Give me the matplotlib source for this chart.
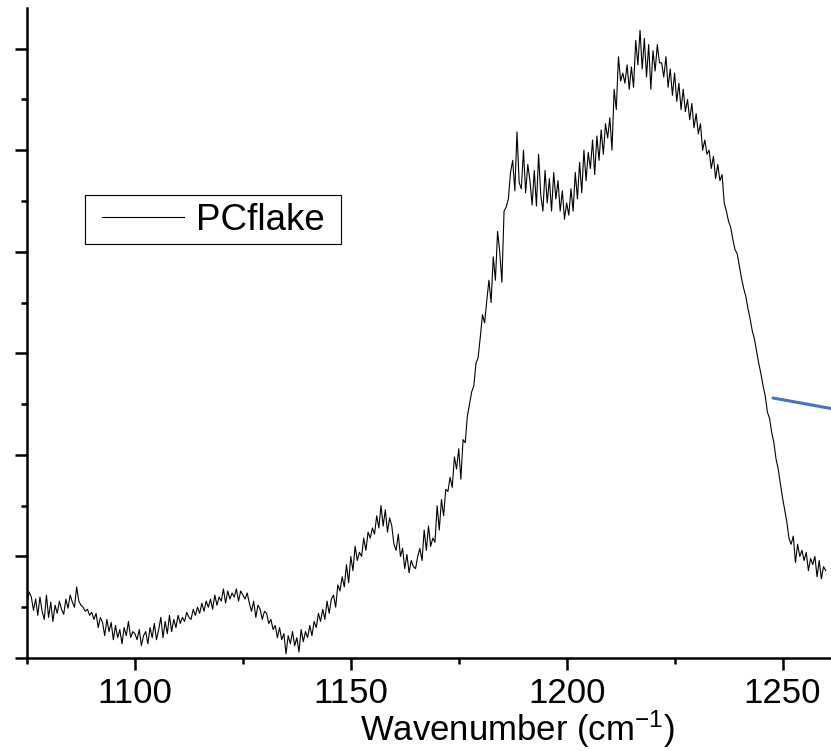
"""
Raman spectrum of the PC flake between 1075 and 1260 cm-1.
"""
import matplotlib
matplotlib.use('Agg')
import matplotlib.pyplot as plt
import numpy as np
from matplotlib.patches import Rectangle
from matplotlib.ticker import FixedLocator, MultipleLocator, NullFormatter

OUTPUT = 'out.png'

# spectrum sampled every 0.5 cm-1 starting at 1075 cm-1
WAVENUMBER_START = 1075.0
WAVENUMBER_STEP = 0.5
SERIES_NAME = 'PCflake'
X_TICKS = [1100, 1150, 1200, 1250]

# intensity in counts, 1075.0 - 1100.0
intensity_1075 = [55, 65, 60, 47, 58, 42, 60, 46, 38, 62, 40, 55, 36, 52, 44, 56, 48,
                  43, 58, 49, 62, 55, 50, 70, 56, 52, 50, 46, 48, 42, 45, 38, 44, 30,
                  40, 35, 22, 38, 26, 35, 18, 32, 20, 28, 14, 30, 22, 36, 20, 26, 24]
# 1100.5 - 1125.0
intensity_1100 = [18, 28, 12, 22, 26, 14, 30, 20, 34, 18, 28, 40, 20, 36, 24, 42, 26,
                  38, 30, 42, 34, 40, 36, 45, 40, 38, 48, 42, 50, 44, 54, 46, 56, 50,
                  58, 48, 62, 52, 60, 56, 68, 54, 66, 58, 64, 60, 68, 56, 66, 62]
# 1125.5 - 1150.0
intensity_1125 = [58, 64, 54, 46, 56, 40, 52, 48, 38, 46, 44, 34, 38, 28, 32, 20, 30,
                  18, 24, 4, 22, 14, 26, 12, 20, 6, 28, 16, 26, 20, 32, 22, 36, 30,
                  44, 36, 48, 38, 56, 44, 58, 62, 50, 72, 66, 80, 70, 92, 74, 100]
# 1150.5 - 1175.0
intensity_1150 = [86, 110, 96, 104, 100, 118, 106, 124, 118, 128, 122, 140, 128, 150,
                  130, 146, 124, 138, 130, 112, 106, 122, 100, 108, 88, 102, 84, 96,
                  90, 88, 100, 108, 96, 126, 106, 130, 110, 118, 114, 150, 126, 156,
                  140, 166, 164, 178, 168, 198, 186, 206]
# 1175.5 - 1200.0
intensity_1175 = [176, 215, 212, 238, 250, 262, 268, 290, 296, 316, 338, 330, 352, 372,
                  350, 395, 372, 420, 400, 370, 440, 444, 452, 478, 490, 460, 518, 468,
                  462, 500, 458, 486, 470, 446, 480, 445, 496, 456, 440, 480, 448, 472,
                  440, 478, 452, 470, 440, 460, 432, 448]
# 1200.5 - 1225.0
intensity_1200 = [436, 462, 440, 478, 452, 488, 458, 500, 470, 498, 482, 510, 476, 514,
                  490, 520, 496, 526, 512, 532, 500, 560, 540, 592, 568, 576, 566, 584,
                  560, 582, 562, 608, 584, 618, 580, 610, 572, 604, 560, 598, 578, 604,
                  586, 586, 572, 592, 562, 580, 554, 576]
# 1225.5 - 1250.0
intensity_1225 = [548, 566, 540, 560, 538, 550, 530, 546, 522, 536, 516, 526, 500, 510,
                  496, 500, 482, 494, 472, 486, 470, 476, 448, 440, 430, 424, 412, 402,
                  398, 386, 374, 364, 356, 344, 334, 322, 314, 302, 290, 280, 268, 258,
                  242, 236, 222, 212, 196, 186, 172, 158]
# 1250.5 - 1260.0
intensity_1250 = [146, 134, 118, 112, 120, 94, 112, 100, 106, 96, 104, 86, 98, 92, 100,
                  80, 96, 78, 90, 86]

# blue pointer line drawn from the falling edge towards the right
POINTER_START = (1247.8, 256)
POINTER_END = (1266.0, 242)


def build_spectrum():
    intensity = np.array(intensity_1075 + intensity_1100 + intensity_1125
                         + intensity_1150 + intensity_1175 + intensity_1200
                         + intensity_1225 + intensity_1250, dtype=float)
    wavenumber = WAVENUMBER_START + WAVENUMBER_STEP * np.arange(len(intensity))
    return wavenumber, intensity


def plot_spectrum(wavenumber, intensity, output_filename):
    plt.rcParams['font.family'] = ['Liberation Sans', 'DejaVu Sans']
    plt.rcParams['mathtext.default'] = 'regular'
    fig = plt.figure(figsize=(8.31, 7.51), dpi=100)
    # axes runs past the right edge of the canvas
    ax = fig.add_axes([27 / 831, 93 / 751, 980 / 831, 650 / 751])

    ax.plot(wavenumber, intensity, color='black', lw=0.8, label=SERIES_NAME)
    ax.annotate('', xy=POINTER_START, xytext=POINTER_END,
                arrowprops=dict(arrowstyle='-', color='#4472C4', lw=2.2,
                                shrinkA=0, shrinkB=0))

    ax.set_xlim(1075, 1302)
    ax.set_ylim(0, 640)
    ax.xaxis.set_major_locator(FixedLocator(X_TICKS))
    ax.xaxis.set_minor_locator(FixedLocator([1075, 1125, 1175, 1225]))
    ax.yaxis.set_major_locator(MultipleLocator(100))
    ax.yaxis.set_minor_locator(MultipleLocator(50))
    ax.yaxis.set_major_formatter(NullFormatter())

    for side in ('top', 'right'):
        ax.spines[side].set_visible(False)
    for side in ('left', 'bottom'):
        ax.spines[side].set_linewidth(1.8)
    ax.tick_params(which='major', direction='out', length=8.6, width=1.8,
                   labelsize=25, pad=5)
    ax.tick_params(which='minor', direction='out', length=4.3, width=1.8)

    ax.set_xlabel('Wavenumber (cm$^{-1}$)', fontsize=25, labelpad=-1)

    # legend entries without frame, box drawn separately
    leg = ax.legend(loc='center left', bbox_to_anchor=(102 / 831, 531 / 751),
                    bbox_transform=fig.transFigure, borderaxespad=0, borderpad=0,
                    fontsize=26.5, handlelength=82 / 36.8, handletextpad=0.33,
                    frameon=False)
    leg.get_lines()[0].set_linewidth(0.8)
    fig.add_artist(Rectangle((85 / 831, 507 / 751), 256 / 831, 49 / 751,
                             transform=fig.transFigure, fill=False,
                             edgecolor='black', linewidth=0.8))

    fig.savefig(output_filename, dpi=100)


if __name__ == "__main__":
    wavenumber, intensity = build_spectrum()
    plot_spectrum(wavenumber, intensity, OUTPUT)
